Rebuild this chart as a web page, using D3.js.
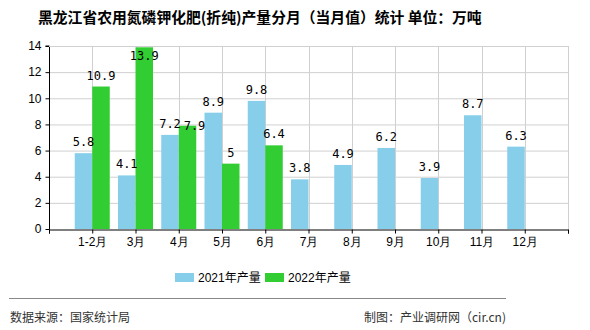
<!DOCTYPE html>
<html><head><meta charset="utf-8">
<script src="https://cdn.jsdelivr.net/npm/d3@7"></script>
<style>
body{margin:0;background:#fff;}
svg{display:block;font-family:"Noto Sans CJK SC","DejaVu Sans",sans-serif;}
</style></head>
<body>
<svg id="c" width="590" height="330"></svg>
<script>
const categories = ["1-2月","3月","4月","5月","6月","7月","8月","9月","10月","11月","12月"];
const values2021 = [5.8,4.1,7.2,8.9,9.8,3.8,4.9,6.2,3.9,8.7,6.3];
const values2022 = [10.9,13.9,7.9,5,6.4,null,null,null,null,null,null];
const seriesNames = ["2021年产量","2022年产量"];
const yTicks = [0,2,4,6,8,10,12,14];
const colors = ["#87CEEB","#32CD32"];

const svg = d3.select("#c");
const L=49, R=568, T=46, B=229;
const x = d3.scaleLinear().domain([0, categories.length+1]).range([L,R]);
const y = d3.scaleLinear().domain([0,14]).range([B,T]);
const bw = 17.5;

// title
svg.append("text").attr("x",38).attr("y",23).attr("font-size",14.8).attr("font-weight","bold")
  .attr("fill","#000").text("黑龙江省农用氮磷钾化肥(折纯)产量分月（当月值）统计 单位：万吨");

// grid
const g = svg.append("g");
g.selectAll(".hg").data(yTicks.slice(1)).enter().append("line")
  .attr("x1",L).attr("x2",R).attr("y1",d=>y(d)+0.5).attr("y2",d=>y(d)+0.5)
  .attr("stroke","#d0d0d0").attr("stroke-width",1);
const xt = d3.range(1, categories.length+2);
g.selectAll(".vg").data(xt).enter().append("line")
  .attr("x1",d=>Math.round(x(d))+0.5).attr("x2",d=>Math.round(x(d))+0.5).attr("y1",T).attr("y2",B)
  .attr("stroke","#d0d0d0").attr("stroke-width",1);

// bars
const data = categories.map((c,i)=>({c,i,v:[values2021[i],values2022[i]]}));
[0,1].forEach(s=>{
  svg.append("g").selectAll("rect").data(data.filter(d=>d.v[s]!=null)).enter().append("rect")
    .attr("x",d=> s===0 ? x(d.i+1)-bw : x(d.i+1))
    .attr("y",d=>y(d.v[s])).attr("width",bw).attr("height",d=>B-y(d.v[s]))
    .attr("fill",colors[s]);
});

// axes
const ya = svg.append("g").attr("transform",`translate(${L+0.5},0)`)
  .call(d3.axisLeft(y).tickValues(yTicks).tickSize(4).tickPadding(4).tickFormat(d3.format("d")));
ya.select(".domain").attr("stroke","#000").attr("d",`M-4,${T}H0V${B+0.5}`);
ya.selectAll("text").attr("font-size",12).attr("font-family","Liberation Sans, sans-serif").attr("fill","#000");
const xa = svg.append("g").attr("transform",`translate(0,${B+0.5})`)
  .call(d3.axisBottom(x).tickValues(d3.range(0,categories.length+2)).tickSize(4).tickPadding(4)
    .tickFormat(d=> (d>=1 && d<=categories.length) ? categories[d-1] : ""));
xa.select(".domain").attr("stroke","#000");
xa.selectAll("text").attr("font-size",12).attr("fill","#000");
// right/top border
svg.append("line").attr("x1",R+0.5).attr("x2",R+0.5).attr("y1",T).attr("y2",B).attr("stroke","#d0d0d0");
svg.append("line").attr("x1",L).attr("x2",R).attr("y1",T+0.5).attr("y2",T+0.5).attr("stroke","#d0d0d0");

// labels
const lab = svg.append("g").attr("font-family","DejaVu Sans Mono, monospace").attr("font-size",12).attr("fill","#000").attr("text-anchor","middle");
data.forEach(d=>{
  let prev=null;
  [0,1].forEach(s=>{
    const v=d.v[s]; if(v==null) return;
    let cx = s===0 ? x(d.i+1)-bw/2 : x(d.i+1)+bw/2;
    let ty = Math.max(y(v)-7, T+14);
    if(prev && Math.abs(prev.ty-ty)<12){ ty = y(v)+4; cx += 7; }
    lab.append("text").attr("x",cx).attr("y",ty).text(String(v));
    prev={ty};
  });
});

// legend
const lg = svg.append("g");
const lx=[175,265];
seriesNames.forEach((n,i)=>{
  lg.append("rect").attr("x",lx[i]).attr("y",273).attr("width",19).attr("height",9).attr("fill",colors[i]);
  lg.append("text").attr("x",lx[i]+23).attr("y",282).attr("font-size",12).attr("font-family","Liberation Sans, Noto Sans CJK SC, sans-serif").attr("fill","#000").text(n);
});

// footer
svg.append("line").attr("x1",9).attr("x2",506).attr("y1",298.5).attr("y2",298.5).attr("stroke","#888");
svg.append("text").attr("x",10).attr("y",322).attr("font-size",12).attr("fill","#333").text("数据来源：国家统计局");
svg.append("text").attr("x",506).attr("y",322).attr("font-size",12).attr("fill","#333").attr("text-anchor","end").text("制图：产业调研网（cir.cn)");
</script>
</body></html>
